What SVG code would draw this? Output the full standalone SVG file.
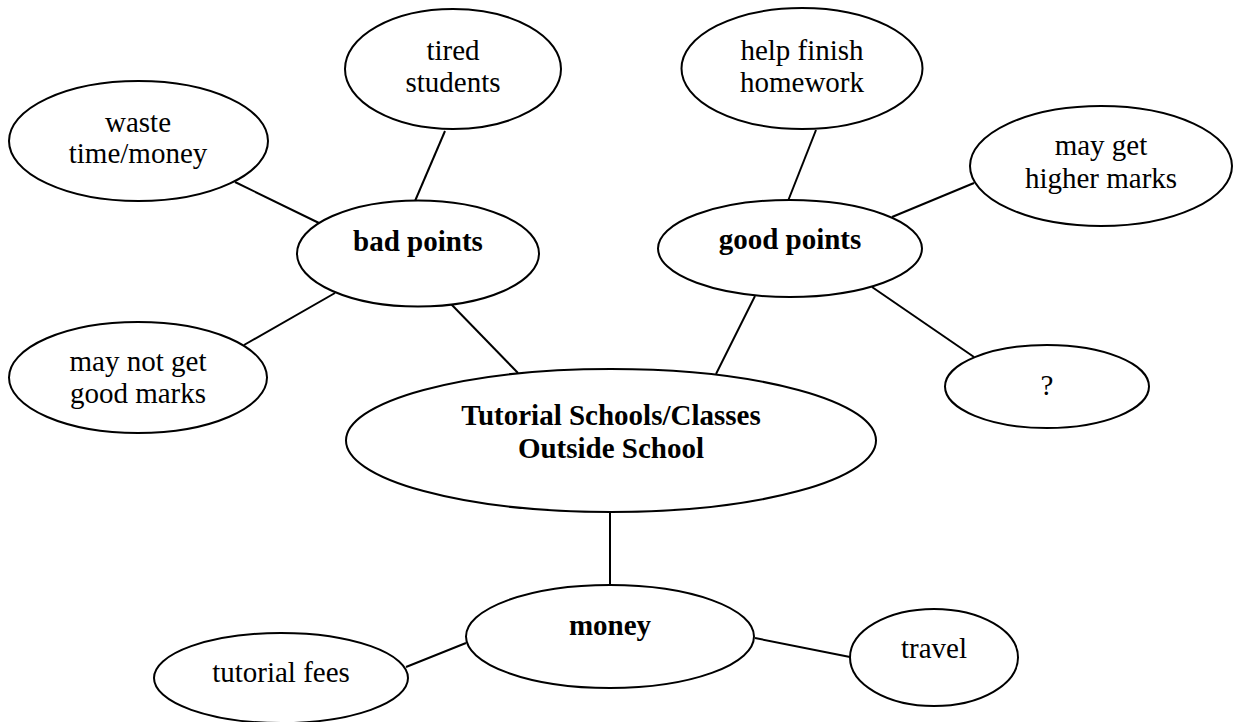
<svg xmlns="http://www.w3.org/2000/svg" width="1236" height="722" viewBox="0 0 1236 722">
  <style>
    .node ellipse { fill: #ffffff; stroke: #000000; stroke-width: 2; }
    .node text { font-family: "Liberation Serif", "Times New Roman", serif; font-size: 29px; fill: #000000; text-anchor: middle; }
    .node text.b { font-weight: bold; }
    #connectors line { stroke: #000000; stroke-width: 2; }
  </style>
  <rect x="0" y="0" width="1236" height="722" fill="#ffffff"/>
  <g id="connectors">
    <line x1="235" y1="182" x2="319" y2="223"/>
    <line x1="445" y1="131" x2="415" y2="201"/>
    <line x1="335" y1="293" x2="244" y2="345"/>
    <line x1="451" y1="304" x2="518" y2="373"/>
    <line x1="816" y1="130" x2="788" y2="201"/>
    <line x1="892" y1="217" x2="974" y2="183"/>
    <line x1="872" y1="287" x2="974" y2="357"/>
    <line x1="755" y1="296" x2="716" y2="374"/>
    <line x1="610" y1="512" x2="610" y2="585"/>
    <line x1="466" y1="643" x2="406" y2="667"/>
    <line x1="755" y1="638" x2="850" y2="657"/>
  </g>
  <g id="node-tired" class="node">
    <ellipse cx="453" cy="69" rx="108" ry="60"/>
    <text x="453" y="60">tired</text>
    <text x="453" y="92">students</text>
  </g>
  <g id="node-waste" class="node">
    <ellipse cx="138.5" cy="141" rx="129.5" ry="60"/>
    <text x="138" y="132">waste</text>
    <text x="138" y="163">time/money</text>
  </g>
  <g id="node-help" class="node">
    <ellipse cx="802" cy="68.5" rx="120.5" ry="60.5"/>
    <text x="802" y="60">help finish</text>
    <text x="802" y="92">homework</text>
  </g>
  <g id="node-higher" class="node">
    <ellipse cx="1101" cy="166" rx="131" ry="60"/>
    <text x="1101" y="155">may get</text>
    <text x="1101" y="188">higher marks</text>
  </g>
  <g id="node-bad" class="node">
    <ellipse cx="418" cy="253.5" rx="121" ry="53"/>
    <text class="b" x="418" y="251">bad points</text>
  </g>
  <g id="node-good" class="node">
    <ellipse cx="790" cy="248.5" rx="132" ry="48.5"/>
    <text class="b" x="790" y="249">good points</text>
  </g>
  <g id="node-maynot" class="node">
    <ellipse cx="138" cy="377.5" rx="129" ry="55.5"/>
    <text x="138" y="371">may not get</text>
    <text x="138" y="403">good marks</text>
  </g>
  <g id="node-question" class="node">
    <ellipse cx="1047" cy="386.5" rx="102" ry="41.5"/>
    <text x="1047" y="395">?</text>
  </g>
  <g id="node-tutorial" class="node">
    <ellipse cx="611" cy="440.5" rx="265" ry="71.5"/>
    <text class="b" x="611" y="425">Tutorial Schools/Classes</text>
    <text class="b" x="611" y="458">Outside School</text>
  </g>
  <g id="node-money" class="node">
    <ellipse cx="610" cy="636.5" rx="144" ry="51.5"/>
    <text class="b" x="610" y="635">money</text>
  </g>
  <g id="node-fees" class="node">
    <ellipse cx="281" cy="678" rx="127" ry="45"/>
    <text x="281" y="682">tutorial fees</text>
  </g>
  <g id="node-travel" class="node">
    <ellipse cx="934" cy="657.5" rx="84" ry="48.5"/>
    <text x="934" y="658">travel</text>
  </g>
</svg>
